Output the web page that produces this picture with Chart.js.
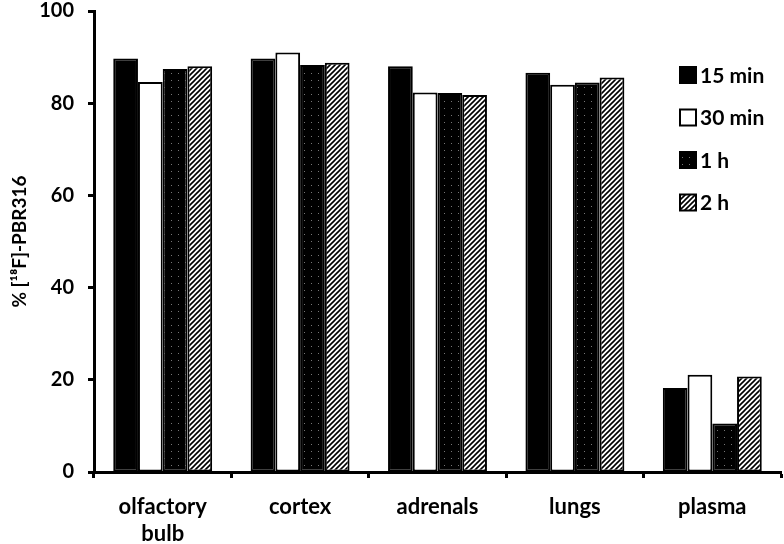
<!DOCTYPE html>
<html>
<head>
<meta charset="utf-8">
<script src="https://cdn.jsdelivr.net/npm/chart.js@4/dist/chart.umd.min.js"></script>
<style>
  html, body { margin: 0; padding: 0; background: #fff; }
  #wrap { width: 784px; height: 544px; }
</style>
</head>
<body>
<div id="wrap"><canvas id="pbrChart" width="784" height="544"></canvas></div>
<script>
const tissues = [['olfactory', 'bulb'], 'cortex', 'adrenals', 'lungs', 'plasma'];
const seriesNames = ['15 min', '30 min', '1 h', '2 h'];
const min15 = [89.7, 89.7, 88.0, 86.6, 18.2];
const min30 = [84.6, 91.0, 82.3, 84.0, 21.1];
const hour1 = [87.4, 88.3, 82.2, 84.5, 10.5];
const hour2 = [88.0, 88.8, 81.8, 85.6, 20.7];
const yTicks = [0, 20, 40, 60, 80, 100];

// fill patterns
function dotPattern() {
    const c = document.createElement('canvas');
    c.width = 7; c.height = 7;
    const g = c.getContext('2d');
    g.fillStyle = '#000';
    g.fillRect(0, 0, 7, 7);
    g.fillStyle = '#777';
    g.fillRect(3, 3, 1, 1);
    return g.createPattern(c, 'repeat');
}

function hatchPattern() {
    const c = document.createElement('canvas');
    c.width = 5; c.height = 5;
    const g = c.getContext('2d');
    g.fillStyle = '#fff';
    g.fillRect(0, 0, 5, 5);
    g.strokeStyle = '#000';
    g.lineWidth = 1.6;
    g.beginPath();
    g.moveTo(-1, 6); g.lineTo(6, -1);
    g.moveTo(-1, 1); g.lineTo(1, -1);
    g.moveTo(4, 6); g.lineTo(6, 4);
    g.stroke();
    return g.createPattern(c, 'repeat');
}

const fills = ['#000', '#fff', dotPattern(), hatchPattern()];
const values = [min15, min30, hour1, hour2];

// legend drawn inside the plot area, on the right
const sideLegend = {
    id: 'sideLegend',
    afterDraw(chart) {
        const ctx = chart.ctx;
        const area = chart.chartArea;
        ctx.save();
        ctx.font = 'bold 21px Lato';
        ctx.textBaseline = 'middle';
        seriesNames.forEach((name, i) => {
            const cy = area.top + 64 + i * 42.5;
            const bx = area.right - 101;
            ctx.fillStyle = fills[i];
            ctx.fillRect(bx, cy - 8, 16, 16);
            ctx.strokeStyle = '#000';
            ctx.lineWidth = 2;
            ctx.strokeRect(bx, cy - 8, 16, 16);
            ctx.fillStyle = '#000';
            ctx.fillText(name, bx + 20, cy + 1);
        });
        ctx.restore();
    }
};

const ctx = document.getElementById('pbrChart').getContext('2d');
new Chart(ctx, {
    type: 'bar',
    data: {
        labels: tissues,
        datasets: seriesNames.map((name, i) => ({
            label: name,
            data: values[i],
            backgroundColor: fills[i],
            borderColor: '#000',
            borderWidth: 2,
            borderSkipped: false,
            barPercentage: 1.0,
            categoryPercentage: 0.72
        }))
    },
    options: {
        responsive: false,
        animation: false,
        layout: { padding: { left: 0, right: 3, top: 11, bottom: 0 } },
        plugins: {
            legend: { display: false },
            tooltip: { enabled: false }
        },
        scales: {
            x: {
                afterFit(scale) {
                    scale.height = 72;
                    scale.paddingLeft = 0;
                    scale.paddingRight = 0;
                },
                border: { display: true, color: '#000', width: 3 },
                grid: {
                    display: true,
                    drawOnChartArea: false,
                    offset: true,
                    color: '#000',
                    tickLength: 6,
                    tickWidth: 3
                },
                ticks: {
                    color: '#000',
                    padding: 16,
                    font: { family: 'Lato', weight: 'bold', size: 22, lineHeight: 1.2 },
                    maxRotation: 0
                }
            },
            y: {
                min: 0,
                max: 100,
                afterFit(scale) {
                    scale.width = 94;
                    scale.paddingTop = 0;
                    scale.paddingBottom = 0;
                },
                afterBuildTicks(scale) { scale.ticks = yTicks.map(v => ({ value: v })); },
                border: { display: true, color: '#000', width: 3 },
                grid: {
                    display: true,
                    drawOnChartArea: false,
                    color: '#000',
                    tickLength: 6,
                    tickWidth: 3
                },
                ticks: {
                    color: '#000',
                    padding: 14,
                    font: { family: 'Lato', weight: 'bold', size: 20 }
                },
                title: {
                    display: true,
                    text: '% [¹⁸F]-PBR316',
                    color: '#000',
                    padding: { top: 8, bottom: 0 },
                    font: { family: 'Lato', weight: 'bold', size: 19 }
                }
            }
        }
    },
    plugins: [sideLegend]
});
</script>
</body>
</html>
